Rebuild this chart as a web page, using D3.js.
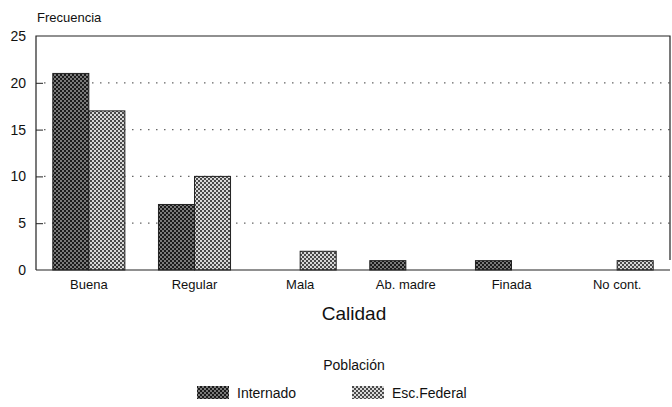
<!DOCTYPE html>
<html><head><meta charset="utf-8">
<script src="https://cdn.jsdelivr.net/npm/d3@7"></script>
<style>body{margin:0;background:#fff}svg{display:block}text{font-family:"Liberation Sans",Arial,sans-serif;fill:#111}</style>
</head><body><svg id="c" width="672" height="407"></svg>
<script>
const categories = ["Buena","Regular","Mala","Ab. madre","Finada","No cont."];
const seriesNames = ["Internado","Esc.Federal"];
const internado = [21,7,0,1,1,0];
const escFederal = [17,10,2,0,0,1];
const yTicks = [0,5,10,15,20,25];

const svg = d3.select("#c");
const L=36,R=670,T=36,B=270;
const defs = svg.append("defs");
function pat(id,bg,fg){
  const p=defs.append("pattern").attr("id",id).attr("width",4).attr("height",4).attr("patternUnits","userSpaceOnUse");
  p.append("rect").attr("width",4).attr("height",4).attr("fill",bg);
  p.append("rect").attr("x",0).attr("y",0).attr("width",2).attr("height",2).attr("fill",fg);
  p.append("rect").attr("x",2).attr("y",2).attr("width",2).attr("height",2).attr("fill",fg);
}
pat("pI","#1a1a1a","#7a7a7a");
pat("pE","#4a4a4a","#d8d8d8");
const fills=["url(#pI)","url(#pE)"];

const x0=d3.scaleBand().domain(categories).range([L,R]).paddingInner(0.318).paddingOuter(0.159);
const x1=d3.scaleBand().domain(seriesNames).range([0,x0.bandwidth()]);
const y=d3.scaleLinear().domain([0,25]).range([B,T]);

// grid
svg.append("g").selectAll("line").data(yTicks.filter(d=>d>0&&d<25)).join("line")
  .attr("x1",L+8).attr("x2",R).attr("y1",d=>y(d)).attr("y2",d=>y(d))
  .attr("stroke","#666").attr("stroke-width",1.2).attr("stroke-dasharray","1.5,6.5");

// bars
const data=[internado,escFederal];
seriesNames.forEach((s,si)=>{
  svg.append("g").selectAll("rect").data(categories.map((c,i)=>({c,v:data[si][i]})).filter(d=>d.v>0)).join("rect")
    .attr("x",d=>x0(d.c)+x1(s)).attr("width",x1.bandwidth())
    .attr("y",d=>y(d.v)).attr("height",d=>B-y(d.v))
    .attr("fill",fills[si]).attr("stroke","#222").attr("stroke-width",1);
});

// frame
svg.append("path").attr("d",`M${L},${B}V${T}H${R}V${B-10}`).attr("fill","none").attr("stroke","#222").attr("stroke-width",1.2);
svg.append("line").attr("x1",L).attr("x2",R).attr("y1",B).attr("y2",B).attr("stroke","#222").attr("stroke-width",1.2);

// y axis
const ya=svg.append("g").attr("transform",`translate(${L},0)`).call(d3.axisRight(y).tickValues(yTicks).tickSize(7).tickFormat(d3.format("d")));
ya.select(".domain").remove();
ya.selectAll("line").attr("stroke","#222");
ya.selectAll("text").attr("x",-10).attr("text-anchor","end").attr("font-size",14).attr("fill","#111").attr("font-family","Liberation Sans, Arial, sans-serif");
ya.selectAll(".tick").filter(d=>d===25||d===0).select("line").remove();

// x labels
const xa=svg.append("g").attr("transform",`translate(0,${B})`).call(d3.axisBottom(x0).tickSize(0).tickPadding(10));
xa.select(".domain").remove();
xa.selectAll("text").attr("font-size",13).attr("fill","#111").attr("font-family","Liberation Sans, Arial, sans-serif");

svg.append("text").attr("x",37).attr("y",22).attr("font-size",13).text("Frecuencia");
svg.append("text").attr("x",354).attr("y",320).attr("text-anchor","middle").attr("font-size",19).text("Calidad");
svg.append("text").attr("x",354).attr("y",370).attr("text-anchor","middle").attr("font-size",14).text("Población");

const lx=[197,352];
seriesNames.forEach((s,i)=>{
  svg.append("rect").attr("x",lx[i]).attr("y",386).attr("width",32).attr("height",13).attr("fill",fills[i]);
  svg.append("text").attr("x",lx[i]+40).attr("y",398).attr("font-size",14).text(s);
});
</script></body></html>
